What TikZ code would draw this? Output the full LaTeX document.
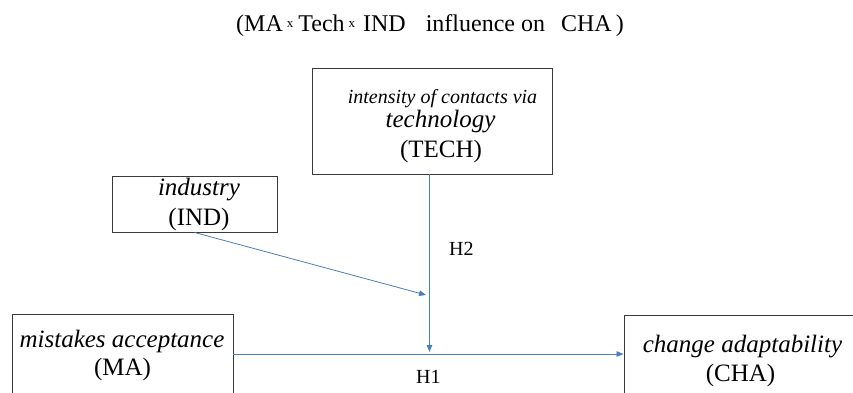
\documentclass[tikz,border=0pt]{standalone}
\usepackage{fontspec}
\setmainfont{Liberation Serif}
\usetikzlibrary{arrows.meta}
\definecolor{lineblue}{HTML}{4A7EBB}
\definecolor{boxgray}{HTML}{3A3A3A}
\tikzset{
  box/.style={draw=boxgray, line width=0.9pt, fill=none, inner sep=0pt},
  arr/.style={draw=lineblue, line width=0.8pt, -{Triangle[length=7pt,width=5.5pt]}},
  big/.style={font=\fontsize{25}{28}\selectfont, inner sep=0pt, anchor=base},
  bigit/.style={font=\fontsize{25}{28}\selectfont\itshape, inner sep=0pt, anchor=base},
  midit/.style={font=\fontsize{20}{24}\selectfont\itshape, inner sep=0pt, anchor=base},
  hyp/.style={font=\fontsize{20}{24}\selectfont, inner sep=0pt, anchor=base west},
}
\newcommand{\smx}{\raisebox{4pt}{\fontsize{13}{13}\selectfont x}}
\begin{document}
\begin{tikzpicture}[x=1pt,y=-1pt]
\useasboundingbox (0,0) rectangle (853,392);
\clip (0,0) rectangle (853,392);
% title
\node[font=\fontsize{24}{28}\selectfont, inner sep=0pt, anchor=base west] (title) at (236,31)
  {(MA\hspace{4pt}\smx\hspace{5pt}Tech\hspace{4pt}\smx\hspace{8pt}IND\hspace{20pt}influence on\hspace{16pt}CHA\hspace{4pt})};
% boxes
\node[box, minimum width=240pt, minimum height=106pt] (tech) at (432,121) {};
\node[box, minimum width=165pt, minimum height=56pt] (ind) at (194.5,204) {};
\node[box, minimum width=221pt, minimum height=96pt] (ma) at (122.5,362) {};
\node[box, minimum width=240pt, minimum height=96pt] (cha) at (744,363) {};
% texts
\node[midit] (t1) at (442.5,103) {intensity of contacts via};
\node[bigit] (t2) at (440.5,127) {technology};
\node[big] (t3) at (441,157) {(TECH)};
\node[bigit] (i1) at (199,195) {industry};
\node[big] (i2) at (199,225) {(IND)};
\node[bigit] (m1) at (122,347) {mistakes acceptance};
\node[big] (m2) at (122.5,375) {(MA)};
\node[bigit] (c1) at (742.5,352) {change adaptability};
\node[big] (c2) at (740.5,381) {(CHA)};
% connectors
\coordinate (j) at (429.5,352);
\coordinate (m) at (426,295);
\draw[arr] ([yshift=8pt]ma.east) -- ([yshift=8pt]ma.east -| cha.west);
\draw[arr] (tech.south -| j) -- (j);
\draw[arr] (ind.south) -- (m);
% hypothesis labels
\node[hyp] (h2) at (449,255) {H2};
\node[hyp] (h1) at (416,383) {H1};
\end{tikzpicture}
\end{document}
